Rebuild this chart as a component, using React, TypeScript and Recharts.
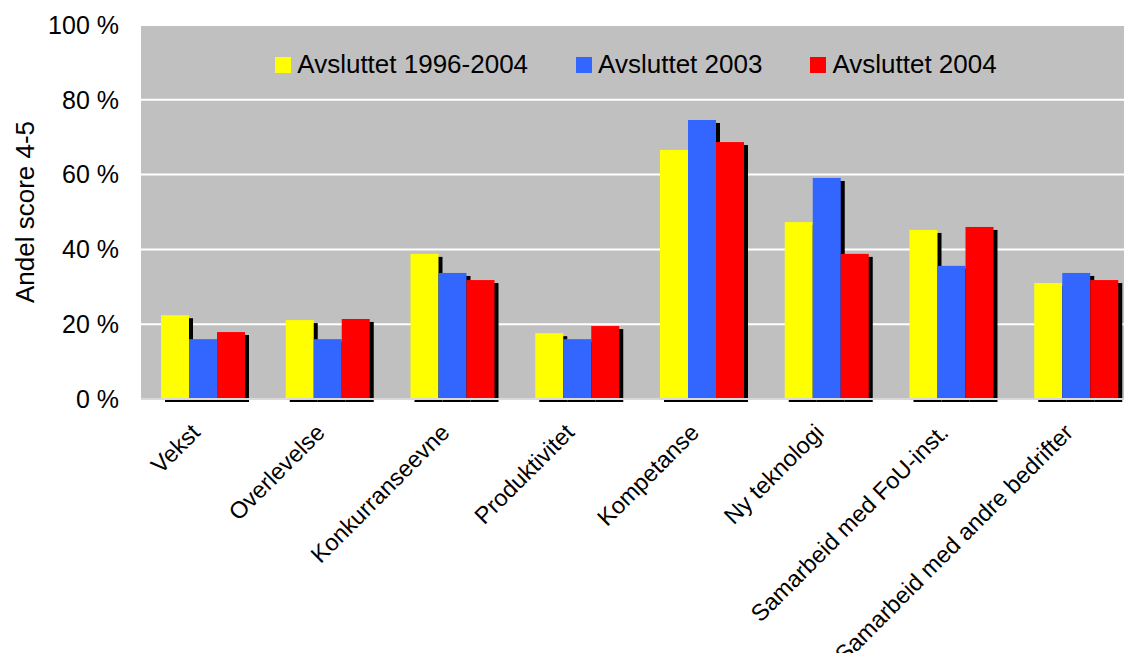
import React from 'react';
import {
  BarChart,
  Bar,
  XAxis,
  YAxis,
  CartesianGrid,
  Legend
} from 'recharts';

const categories = [
  'Vekst',
  'Overlevelse',
  'Konkurranseevne',
  'Produktivitet',
  'Kompetanse',
  'Ny teknologi',
  'Samarbeid med FoU-inst.',
  'Samarbeid med andre bedrifter'
];

const avsluttet19962004 = [22.4, 21.1, 38.8, 17.6, 66.6, 47.3, 45.2, 31.0];
const avsluttet2003 = [16.0, 16.0, 33.7, 16.0, 74.6, 59.1, 35.6, 33.7];
const avsluttet2004 = [17.9, 21.4, 31.8, 19.5, 68.7, 38.8, 46.0, 31.8];

const yTicks = [0, 20, 40, 60, 80, 100];

const SERIES = [
  { key: 'a', name: 'Avsluttet 1996-2004', color: '#FFFF00' },
  { key: 'b', name: 'Avsluttet 2003', color: '#3366FF' },
  { key: 'c', name: 'Avsluttet 2004', color: '#FF0000' }
];

const FONT = '"Liberation Sans", Arial, sans-serif';

const data = categories.map((name, i) => ({
  name,
  a: avsluttet19962004[i],
  b: avsluttet2003[i],
  c: avsluttet2004[i]
}));

// bar with a black drop shadow, like the old Excel look
const ShadowBar = (props: any) => {
  const { x, y, width, height, fill } = props;
  if (!height || height <= 0) return null;
  return (
    <g>
      <rect x={x + 4} y={y + 3} width={width} height={height} fill="#000" />
      <rect x={x} y={y} width={width} height={height} fill={fill} />
    </g>
  );
};

const XTick = (props: any) => {
  const { x, y, payload } = props;
  const tx = x - 2;
  const ty = y + 35;
  return (
    <text
      x={tx}
      y={ty}
      transform={`rotate(-45 ${tx} ${ty})`}
      textAnchor="end"
      fontSize={23.5}
      fontFamily={FONT}
      fill="#000"
    >
      {payload.value}
    </text>
  );
};

const LegendContent = () => (
  <div
    style={{
      display: 'flex',
      justifyContent: 'center',
      alignItems: 'center',
      fontFamily: FONT,
      fontSize: 26,
      color: '#000'
    }}
  >
    {SERIES.map((s, i) => (
      <div
        key={s.key}
        style={{ display: 'flex', alignItems: 'center', marginLeft: i === 0 ? 0 : 48 }}
      >
        <span style={{ width: 16, height: 16, background: s.color, marginRight: 6 }} />
        <span>{s.name}</span>
      </div>
    ))}
  </div>
);

export default function App() {
  return (
    <div style={{ position: 'absolute', left: 0, top: 0, background: '#fff', overflow: 'hidden', width: 1124, height: 653 }}>
      <BarChart
        width={1124}
        height={653}
        data={data}
        margin={{ top: 25, right: -15, left: 0, bottom: 4 }}
        barCategoryGap={20}
        barGap={0}
      >
        <CartesianGrid
          vertical={false}
          fill="#C0C0C0"
          stroke="#FFFFFF"
          strokeWidth={2}
          fillOpacity={1}
        />
        <XAxis
          dataKey="name"
          height={250}
          interval={0}
          tickLine={false}
          tickSize={0}
          tickMargin={0}
          axisLine={{ stroke: '#D9D9D9', strokeWidth: 2 }}
          tick={<XTick />}
        />
        <YAxis
          width={141}
          domain={[0, 100]}
          ticks={yTicks}
          tickFormatter={(v: number) => `${v} %`}
          axisLine={false}
          tickLine={false}
          tickSize={0}
          tickMargin={22}
          tick={{ fontSize: 25, fontFamily: FONT, fill: '#000' }}
          label={{
            value: 'Andel score 4-5',
            angle: -90,
            position: 'center',
            dx: -46,
            style: { fontSize: 26, fontFamily: FONT, fill: '#000' }
          }}
        />
        <Legend
          verticalAlign="middle"
          align="center"
          layout="horizontal"
          wrapperStyle={{ top: 49, left: 137, width: 998 }}
          content={<LegendContent />}
        />
        {SERIES.map(s => (
          <Bar
            key={s.key}
            dataKey={s.key}
            name={s.name}
            fill={s.color}
            shape={<ShadowBar />}
            isAnimationActive={false}
          />
        ))}
      </BarChart>
    </div>
  );
}
